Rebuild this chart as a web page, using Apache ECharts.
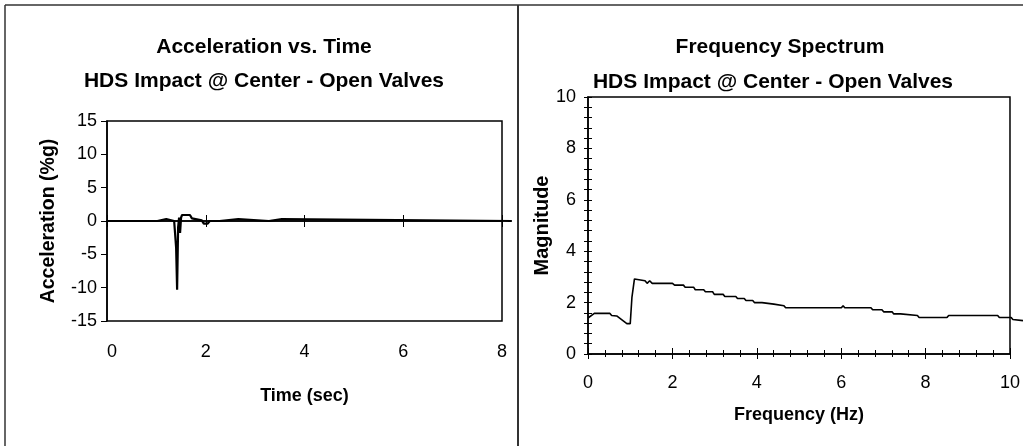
<!DOCTYPE html>
<html>
<head>
<meta charset="utf-8">
<script src="https://cdn.jsdelivr.net/npm/echarts@6/dist/echarts.min.js"></script>
<style>
html,body{margin:0;padding:0;background:#fff;}
#c{width:1023px;height:446px;}
</style>
</head>
<body>
<div id="c"></div>
<script>
// ---- Left chart: Acceleration vs. Time ----
const timeSec = [0, 1.02, 1.04, 1.20, 1.22, 1.36, 1.40, 1.42, 1.44, 1.46, 1.48, 1.50, 1.52, 1.68, 1.72, 1.76, 1.92, 1.96, 2.04, 2.08, 2.28, 2.30, 2.66, 2.70, 3.28, 3.30, 3.54, 3.58, 8.2];
const accel   = [0, 0,    0.3,  0.3,  0,    0,    -4,   -10.3, -1,  0.5,  -1.8, 0.5,  0.9,  0.9,  0.4,  0.1,  0.1,  -0.4, -0.4, 0,    0,    0.3,  0.3,  0,    0,    0.3,  0.3,  0,    0];

// ---- Right chart: Frequency Spectrum ----
const freqHz = [0, 0.15, 0.52, 0.56, 0.68, 0.92, 1.0, 1.04, 1.1, 1.12, 1.35, 1.4, 1.46, 1.52, 2.0, 2.05, 2.26, 2.30, 2.50, 2.54, 2.74, 2.78, 2.95, 2.99, 3.20, 3.24, 3.50, 3.54, 3.70, 3.74, 3.90, 3.94, 4.12, 4.16, 4.40, 4.44, 4.64, 4.68, 6.0, 6.04, 6.08, 6.70, 6.74, 6.96, 7.0, 7.20, 7.24, 7.40, 7.44, 7.80, 7.84, 8.50, 8.54, 9.70, 9.74, 10.02, 10.06, 10.3];
const magnitude = [1.40, 1.58, 1.58, 1.50, 1.48, 1.18, 1.18, 2.2, 2.92, 2.85, 2.85, 2.75, 2.85, 2.75, 2.75, 2.68, 2.68, 2.60, 2.60, 2.50, 2.50, 2.42, 2.42, 2.32, 2.32, 2.24, 2.24, 2.16, 2.16, 2.08, 2.08, 2.00, 2.00, 1.94, 1.94, 1.88, 1.88, 1.80, 1.80, 1.88, 1.80, 1.80, 1.72, 1.72, 1.64, 1.64, 1.56, 1.56, 1.50, 1.50, 1.42, 1.42, 1.50, 1.50, 1.42, 1.42, 1.34, 1.30];

// axis ranges
const timeMin = 0, timeMax = 8, timeStep = 2;
const accMin = -15, accMax = 15, accStep = 5;
const freqMin = 0, freqMax = 10, freqStep = 2;
const magMin = 0, magMax = 10, magStep = 2;

const titleLine1Left = "Acceleration vs. Time";
const titleLine1Right = "Frequency Spectrum";
const titleLine2 = "HDS Impact @ Center - Open Valves";

const FONT = "'Liberation Sans', Arial, sans-serif";
const chart = echarts.init(document.getElementById('c'), null, {renderer: 'canvas'});

const titleStyle = {fontFamily: FONT, fontWeight: 'bold', fontSize: 21, color: '#000'};
const tickLbl = {fontFamily: FONT, fontSize: 18, color: '#000'};
const nameStyle = {fontFamily: FONT, fontWeight: 'bold', fontSize: 18, color: '#000'};
const blk = {color: '#000', width: 1.5};

// plot boxes
const L = {left: 107, top: 121, width: 395, height: 200};
const R = {left: 588, top: 97, width: 423, height: 257};
// data extents reach slightly past the plotted axis range (as in the original); use overlay grids with the same scale
const timeDataMax = Math.max(...timeSec);
const freqDataMax = Math.max(...freqHz);

const option = {
  animation: false,
  backgroundColor: '#fff',
  title: [
    {text: titleLine1Left, left: 264, top: 37, textAlign: 'center', textStyle: titleStyle, padding: 0},
    {text: titleLine2, left: 264, top: 71, textAlign: 'center', textStyle: titleStyle, padding: 0},
    {text: titleLine1Right, left: 780, top: 37, textAlign: 'center', textStyle: titleStyle, padding: 0},
    {text: titleLine2, left: 773, top: 72, textAlign: 'center', textStyle: titleStyle, padding: 0}
  ],
  graphic: [
    {type: 'line', shape: {x1: 5, y1: 5, x2: 1023, y2: 5}, style: {stroke: '#333', lineWidth: 1.5}},
    {type: 'line', shape: {x1: 5, y1: 5, x2: 5, y2: 446}, style: {stroke: '#333', lineWidth: 1.5}},
    {type: 'line', shape: {x1: 518, y1: 5, x2: 518, y2: 446}, style: {stroke: '#333', lineWidth: 2}}
  ],
  grid: [
    {...L, show: true, borderColor: '#000', borderWidth: 1.5, backgroundColor: 'transparent'},
    {...R, show: true, borderColor: '#000', borderWidth: 1.5, backgroundColor: 'transparent'},
    {left: L.left, top: L.top, height: L.height, width: L.width * (timeDataMax - timeMin) / (timeMax - timeMin), show: false},
    {left: R.left, top: R.top, height: R.height, width: R.width * (freqDataMax - freqMin) / (freqMax - freqMin), show: false}
  ],
  xAxis: [
    {gridIndex: 0, type: 'value', min: timeMin, max: timeMax, interval: timeStep, position: 'bottom',
     axisLine: {show: false, onZero: false}, axisTick: {show: false}, splitLine: {show: false},
     axisLabel: {margin: 22, alignMinLabel: 'left', ...tickLbl},
     name: 'Time (sec)', nameLocation: 'middle', nameGap: 66, nameTextStyle: nameStyle},
    {gridIndex: 0, type: 'value', min: timeMin, max: timeMax, interval: timeStep, position: 'bottom',
     axisLine: {show: true, onZero: true, onZeroAxisIndex: 0, lineStyle: blk},
     axisTick: {show: true, inside: true, length: 6, lineStyle: {color: '#000', width: 1}},
     axisLabel: {show: false}, splitLine: {show: false}},
    {gridIndex: 0, type: 'value', min: timeMin, max: timeMax, interval: timeStep, position: 'bottom',
     axisLine: {show: true, onZero: true, onZeroAxisIndex: 0, lineStyle: blk},
     axisTick: {show: true, inside: false, length: 6, lineStyle: {color: '#000', width: 1}},
     axisLabel: {show: false}, splitLine: {show: false}},
    {gridIndex: 1, type: 'value', min: freqMin, max: freqMax, interval: freqStep, position: 'bottom',
     axisLine: {show: true, onZero: false, lineStyle: blk},
     axisTick: {show: true, inside: true, length: 6, lineStyle: {color: '#000', width: 1}},
     minorTick: {show: true, splitNumber: 5, length: 4, lineStyle: {color: '#000', width: 1}},
     axisLabel: {margin: 20, ...tickLbl}, splitLine: {show: false}, minorSplitLine: {show: false},
     name: 'Frequency (Hz)', nameLocation: 'middle', nameGap: 52, nameTextStyle: nameStyle},
    {gridIndex: 1, type: 'value', min: freqMin, max: freqMax, interval: freqStep, position: 'bottom',
     axisLine: {show: false, onZero: false},
     axisTick: {show: true, inside: false, length: 5, lineStyle: {color: '#000', width: 1}},
     minorTick: {show: true, splitNumber: 5, length: 3, lineStyle: {color: '#000', width: 1}},
     axisLabel: {show: false}, splitLine: {show: false}},
    {gridIndex: 2, type: 'value', min: timeMin, max: timeDataMax, show: false},
    {gridIndex: 3, type: 'value', min: freqMin, max: freqDataMax, show: false}
  ],
  yAxis: [
    {gridIndex: 0, type: 'value', min: accMin, max: accMax, interval: accStep, position: 'left',
     axisLine: {show: true, onZero: false, lineStyle: blk},
     axisTick: {show: true, inside: false, length: 6, lineStyle: {color: '#000', width: 1}},
     axisLabel: {margin: 10, ...tickLbl}, splitLine: {show: false},
     name: 'Acceleration (%g)', nameLocation: 'middle', nameGap: 48, nameTextStyle: {...nameStyle, fontSize: 19.5}},
    {gridIndex: 1, type: 'value', min: magMin, max: magMax, interval: magStep, position: 'left',
     axisLine: {show: true, onZero: false, lineStyle: blk},
     axisTick: {show: true, inside: true, length: 4, lineStyle: {color: '#000', width: 1}},
     minorTick: {show: true, splitNumber: 5, length: 4, lineStyle: {color: '#000', width: 1}},
     axisLabel: {margin: 12, ...tickLbl}, splitLine: {show: false}, minorSplitLine: {show: false},
     name: 'Magnitude', nameLocation: 'middle', nameGap: 30, nameTextStyle: {...nameStyle, fontSize: 20}},
    {gridIndex: 1, type: 'value', min: magMin, max: magMax, interval: magStep, position: 'left',
     axisLine: {show: false, onZero: false},
     axisTick: {show: true, inside: false, length: 4, lineStyle: {color: '#000', width: 1}},
     minorTick: {show: true, splitNumber: 5, length: 4, lineStyle: {color: '#000', width: 1}},
     axisLabel: {show: false}, splitLine: {show: false}},
    {gridIndex: 2, type: 'value', min: accMin, max: accMax, show: false},
    {gridIndex: 3, type: 'value', min: magMin, max: magMax, show: false}
  ],
  series: [
    {type: 'line', xAxisIndex: 5, yAxisIndex: 3, clip: false, showSymbol: false, symbol: 'none',
     lineStyle: {color: '#000', width: 2.2}, data: timeSec.map((t, i) => [t, accel[i]])},
    {type: 'line', xAxisIndex: 6, yAxisIndex: 4, clip: false, showSymbol: false, symbol: 'none',
     lineStyle: {color: '#000', width: 1.6}, data: freqHz.map((f, i) => [f, magnitude[i]])}
  ]
};
chart.setOption(option);
</script>
</body>
</html>
